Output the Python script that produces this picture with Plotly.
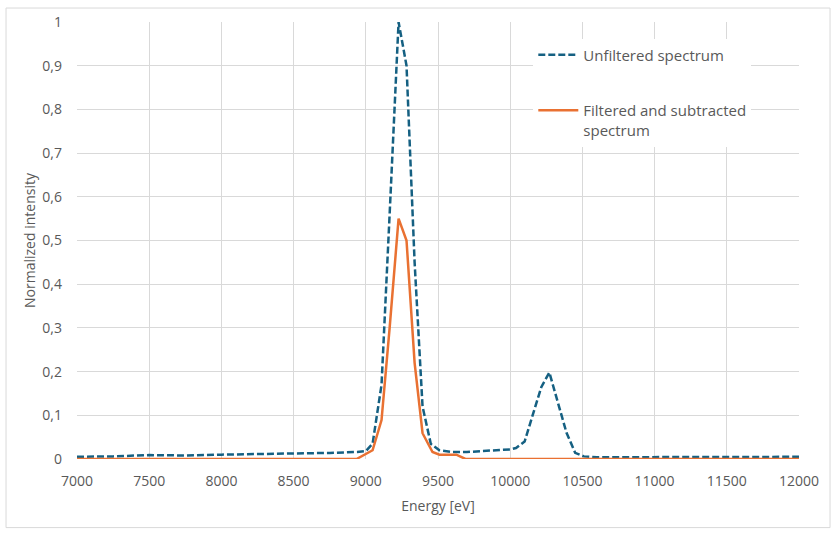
import plotly.graph_objects as go

# Energy grid (eV) and normalized intensities
energy_unfiltered = [7000, 7250, 7500, 7750, 8000, 8250, 8500, 8750, 8940, 9000,
                     9047, 9109, 9165, 9227, 9282, 9338, 9393, 9450, 9510, 9600,
                     9700, 9800, 9900, 10000, 10040, 10100, 10160, 10216, 10271,
                     10330, 10390, 10450, 10510, 10600, 11000, 11500, 12000]
unfiltered = [0.005, 0.006, 0.009, 0.008, 0.010, 0.011, 0.013, 0.014, 0.016, 0.018,
              0.035, 0.17, 0.56, 1.0, 0.90, 0.45, 0.12, 0.035, 0.02, 0.016,
              0.016, 0.018, 0.020, 0.022, 0.025, 0.04, 0.105, 0.165, 0.198,
              0.13, 0.06, 0.014, 0.006, 0.004, 0.004, 0.005, 0.005]

energy_filtered = [7000, 8936, 9047, 9109, 9165, 9227, 9282, 9338, 9393, 9462,
                   9510, 9627, 9690, 12000]
filtered = [0, 0, 0.02, 0.089, 0.30, 0.55, 0.50, 0.22, 0.059, 0.016,
            0.01, 0.01, 0, 0]

x_ticks = [7000, 7500, 8000, 8500, 9000, 9500, 10000, 10500, 11000, 11500, 12000]
x_ticktext = [str(v) for v in x_ticks]
y_ticks = [0, 0.1, 0.2, 0.3, 0.4, 0.5, 0.6, 0.7, 0.8, 0.9, 1.0]
y_ticktext = ["0", "0,1", "0,2", "0,3", "0,4", "0,5", "0,6", "0,7", "0,8", "0,9", "1"]

font_family = "Open Sans, Noto Sans, sans-serif"
text_color = "#595959"
grid_color = "#d9d9d9"

fig = go.Figure()
fig.add_trace(go.Scatter(
    x=energy_unfiltered, y=unfiltered, mode="lines",
    name="Unfiltered spectrum", legendgroup="a",
    line=dict(color="#156082", width=2.5, dash="7px,3px"),
))
fig.add_trace(go.Scatter(
    x=energy_filtered, y=filtered, mode="lines",
    name="Filtered and subtracted<br>spectrum", legendgroup="b",
    line=dict(color="#E97132", width=2.5),
))

fig.update_layout(
    width=837, height=535,
    margin=dict(l=77, r=38, t=20, b=76),
    paper_bgcolor="white", plot_bgcolor="white",
    font=dict(family=font_family, size=14, color=text_color),
    showlegend=True,
    legend=dict(
        x=0.632, y=0.962, xanchor="left", yanchor="top",
        bgcolor="white", font=dict(size=15, color=text_color),
        tracegroupgap=33, valign="top", itemwidth=40,
    ),
    shapes=[dict(type="rect", xref="paper", yref="paper",
                 x0=-0.0983, x1=1.043, y0=-0.157, y1=1.032,
                 line=dict(color=grid_color, width=1), layer="below")],
)
fig.update_xaxes(
    range=[7000, 12000], tickvals=x_ticks, ticktext=x_ticktext,
    showgrid=True, gridcolor=grid_color, gridwidth=1,
    zeroline=False, showline=False, ticks="", ticklabelstandoff=12,
    title=dict(text="Energy [eV]", font=dict(size=14, color=text_color), standoff=12),
)
fig.update_yaxes(
    range=[0, 1], tickvals=y_ticks, ticktext=y_ticktext,
    showgrid=True, gridcolor=grid_color, gridwidth=1,
    zeroline=False, showline=False, ticks="", ticklabelstandoff=14,
    title=dict(text="Normalized intensity", font=dict(size=14, color=text_color), standoff=3),
)

fig.write_html("out.html")
